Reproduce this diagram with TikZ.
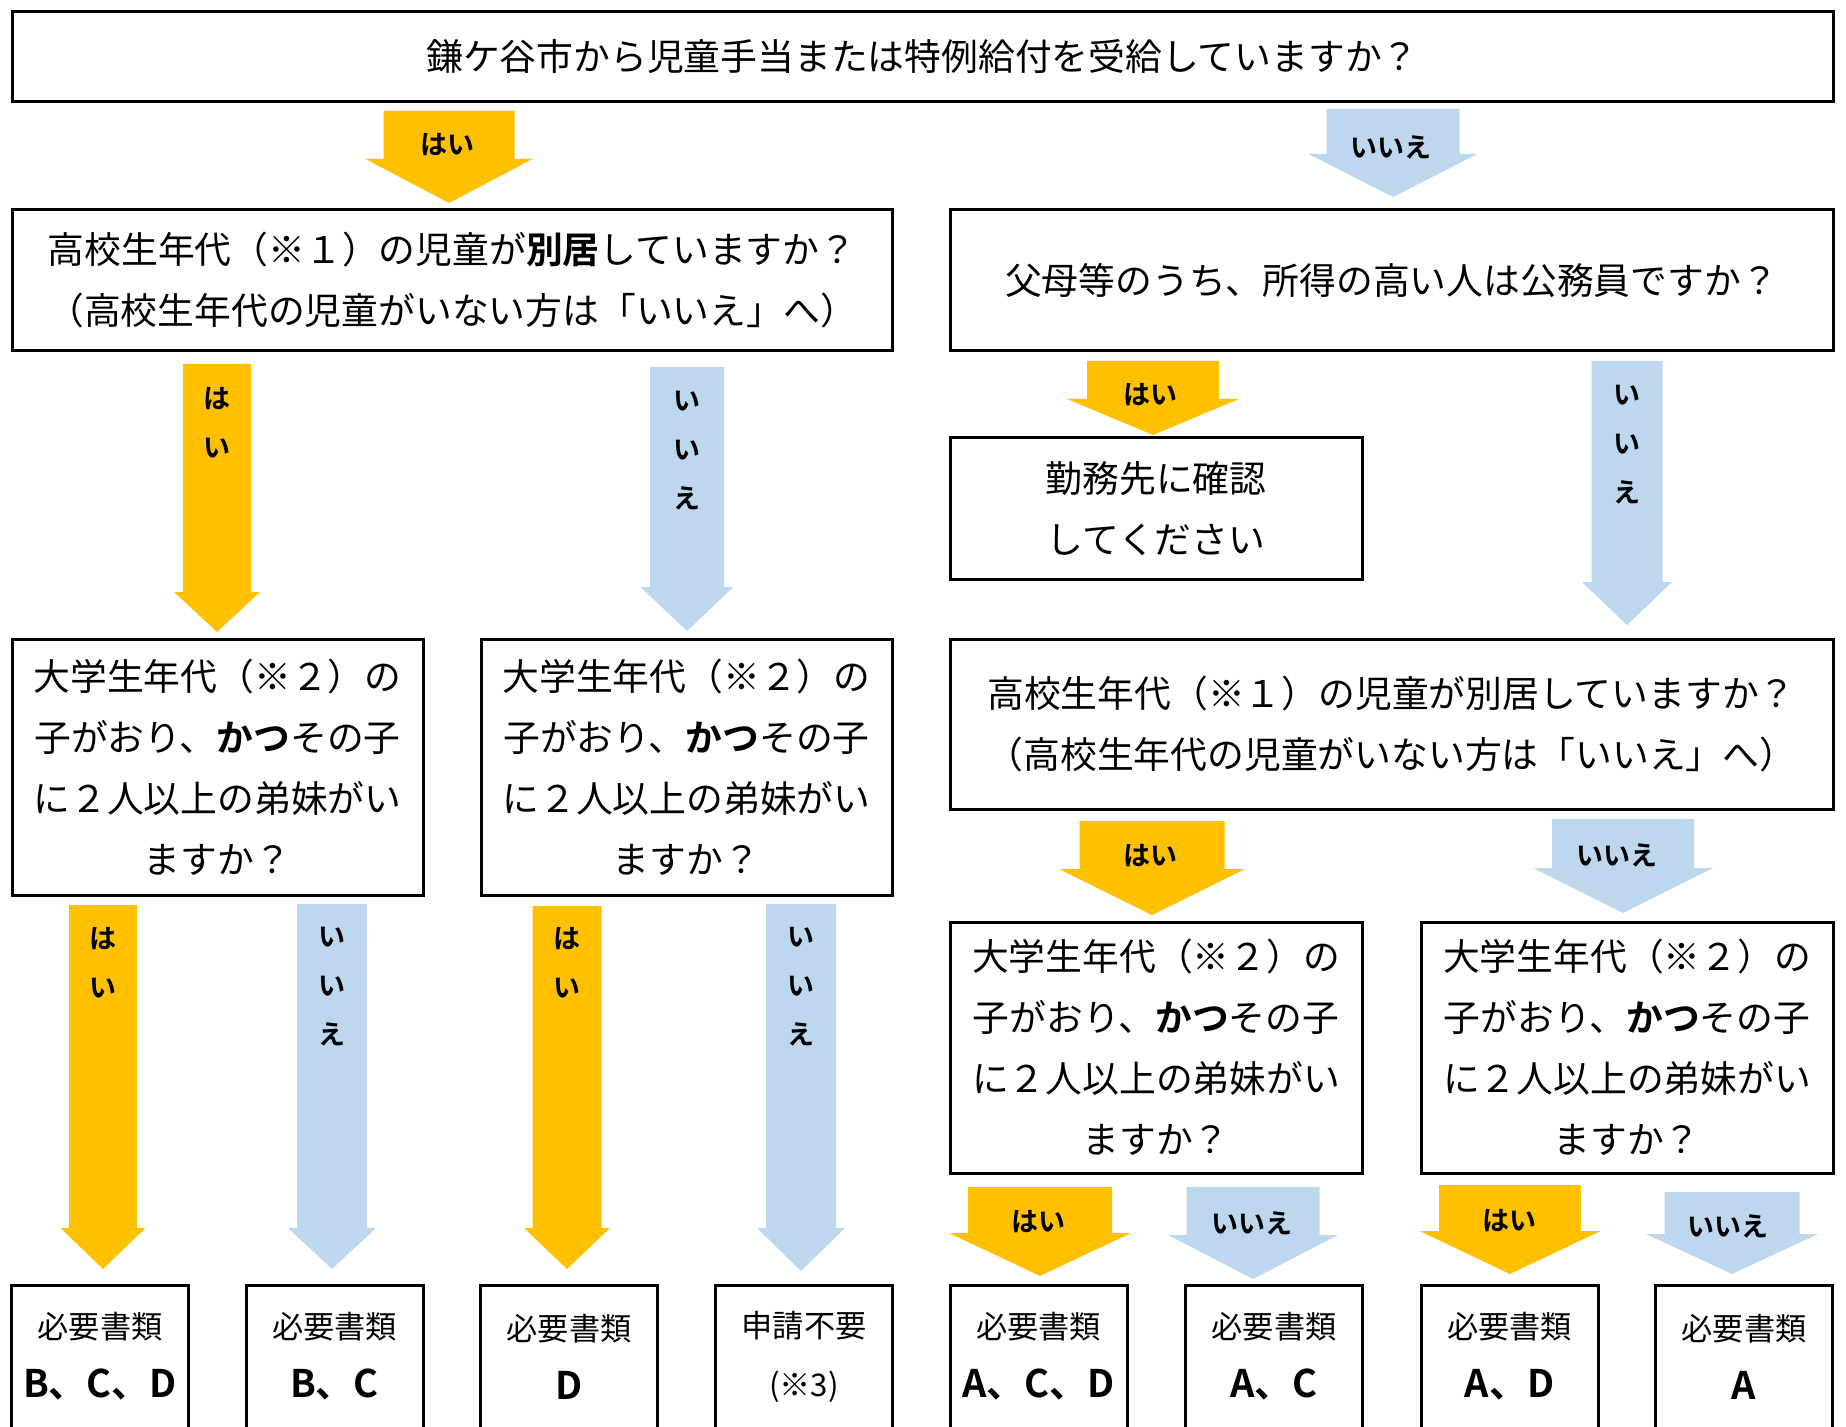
\documentclass[tikz,border=0pt]{standalone}
\usepackage{fontspec}
\setmainfont{Noto Sans CJK JP}[BoldFont={Noto Sans CJK JP Bold}]
\usetikzlibrary{calc}
\definecolor{hai}{HTML}{FFC000}
\definecolor{iie}{HTML}{BDD7EE}
\newdimen\pxu \pxu=0.5pt
\newcommand{\bigarrow}[6]{%
  \fill[#1] ($(#2)+(-#4,0)$) -- ($(#2)+(#4,0)$) -- ($(#3)+(#4,-#6)$) -- ($(#3)+(#5,-#6)$)
    -- (#3) -- ($(#3)+(-#5,-#6)$) -- ($(#3)+(-#4,-#6)$) -- cycle;}
\newcommand{\doclet}[1]{{\fontsize{19pt}{29.5pt}\selectfont\bfseries #1}}

\begin{document}
\begin{tikzpicture}[x=0.5pt, y=-0.5pt,
    box/.style={draw, line width=1.5pt, align=center, inner sep=0pt,
        font=\fontsize{18.4pt}{30.5pt}\selectfont},
    docbox/.style={draw, line width=1.5pt, align=center, inner sep=0pt,
        minimum width=177\pxu, minimum height=143\pxu, font=\fontsize{15.6pt}{29.5pt}\selectfont},
    lab/.style={align=center, inner sep=0pt, font=\fontsize{13.5pt}{24.5pt}\selectfont\bfseries}]
        \useasboundingbox (0,0) rectangle (1846,1427);

        \node[box, minimum width=1821\pxu, minimum height=90\pxu] (q0) at (922.5,57)
            {鎌ケ谷市から児童手当または特例給付を受給していますか？};
        \node[box, minimum width=880\pxu, minimum height=141\pxu] (qL1) at (452,280.5)
            {高校生年代（※１）の児童が\textbf{別居}していますか？\\（高校生年代の児童がいない方は「いいえ」へ）};
        \node[box, minimum width=883\pxu, minimum height=141\pxu] (qR1) at (1391.5,280.5)
            {父母等のうち、所得の高い人は公務員ですか？};
        \node[box, minimum width=412\pxu, minimum height=141\pxu] (qK) at (1156,508.5)
            {勤務先に確認\\してください};
        \node[box, minimum width=411\pxu, minimum height=256\pxu] (qL2a) at (217.5,767)
            {大学生年代（※２）の\\子がおり、\textbf{かつ}その子\\に２人以上の弟妹がい\\ますか？};
        \node[box, minimum width=411\pxu, minimum height=256\pxu] (qL2b) at (686.5,767)
            {大学生年代（※２）の\\子がおり、\textbf{かつ}その子\\に２人以上の弟妹がい\\ますか？};
        \node[box, minimum width=883\pxu, minimum height=170\pxu] (qR2) at (1391.5,724)
            {高校生年代（※１）の児童が別居していますか？\\（高校生年代の児童がいない方は「いいえ」へ）};
        \node[box, minimum width=412\pxu, minimum height=251\pxu] (qR3a) at (1156,1047.5)
            {大学生年代（※２）の\\子がおり、\textbf{かつ}その子\\に２人以上の弟妹がい\\ますか？};
        \node[box, minimum width=412\pxu, minimum height=251\pxu] (qR3b) at (1627,1047.5)
            {大学生年代（※２）の\\子がおり、\textbf{かつ}その子\\に２人以上の弟妹がい\\ますか？};

        \node[docbox] (d1) at (100,1356.5) {必要書類\\\doclet{B、C、D}};
        \node[docbox] (d2) at (334.5,1356.5) {必要書類\\\doclet{B、C}};
        \node[docbox] (d3) at (569,1356.5) {必要書類\\\doclet{D}};
        \node[docbox] (d4) at (804,1356.5) {申請不要\\(※3)};
        \node[docbox] (d5) at (1038.5,1356.5) {必要書類\\\doclet{A、C、D}};
        \node[docbox] (d6) at (1274,1356.5) {必要書類\\\doclet{A、C}};
        \node[docbox] (d7) at (1509.5,1356.5) {必要書類\\\doclet{A、D}};
        \node[docbox] (d8) at (1744,1356.5) {必要書類\\\doclet{A}};

        \coordinate (a0ys) at (449,111);   \coordinate (a0ye) at (449,203);
        \coordinate (a0ns) at (1393,109);  \coordinate (a0ne) at (1393,197);
        \coordinate (a1ys) at (217,364);   \coordinate (a1ye) at (217,632);
        \coordinate (a1ns) at (687,367);   \coordinate (a1ne) at (687,631);
        \coordinate (a2ys) at (1153,361);  \coordinate (a2ye) at (1153,435);
        \coordinate (a2ns) at (1627,361);  \coordinate (a2ne) at (1627,625);
        \coordinate (a3ys) at (103,905);   \coordinate (a3ye) at (103,1269);
        \coordinate (a3ns) at (332,904);   \coordinate (a3ne) at (332,1269);
        \coordinate (a4ys) at (567,906);   \coordinate (a4ye) at (567,1269);
        \coordinate (a4ns) at (801,904);   \coordinate (a4ne) at (801,1271);
        \coordinate (a5ys) at (1152,821);  \coordinate (a5ye) at (1152,915);
        \coordinate (a5ns) at (1623,819);  \coordinate (a5ne) at (1623,913);
        \coordinate (a6ys) at (1040,1187); \coordinate (a6ye) at (1040,1276);
        \coordinate (a6ns) at (1253,1187); \coordinate (a6ne) at (1253,1279);
        \coordinate (a7ys) at (1510,1185); \coordinate (a7ye) at (1510,1274);
        \coordinate (a7ns) at (1732,1192); \coordinate (a7ne) at (1732,1274);

        \bigarrow{hai}{a0ys}{a0ye}{65.5}{83.5}{44}
        \bigarrow{iie}{a0ns}{a0ne}{66.5}{84.5}{43}
        \bigarrow{hai}{a1ys}{a1ye}{34}{43}{40}
        \bigarrow{iie}{a1ns}{a1ne}{37}{46.5}{44}
        \bigarrow{hai}{a2ys}{a2ye}{66}{86}{36}
        \bigarrow{iie}{a2ns}{a2ne}{35.5}{45}{43}
        \bigarrow{hai}{a3ys}{a3ye}{34}{42.5}{41}
        \bigarrow{iie}{a3ns}{a3ne}{35}{44}{41}
        \bigarrow{hai}{a4ys}{a4ye}{34.5}{43}{41}
        \bigarrow{iie}{a4ns}{a4ne}{35}{44}{43}
        \bigarrow{hai}{a5ys}{a5ye}{72.5}{93}{46}
        \bigarrow{iie}{a5ns}{a5ne}{71}{90}{45}
        \bigarrow{hai}{a6ys}{a6ye}{72}{91}{43}
        \bigarrow{iie}{a6ns}{a6ne}{66.5}{85}{44}
        \bigarrow{hai}{a7ys}{a7ye}{71}{90.5}{43}
        \bigarrow{iie}{a7ns}{a7ne}{67.5}{86}{40}

        \node[lab] (t0y) at (447,145) {はい};
        \node[lab] (t0n) at (1391,147) {いいえ};
        \node[lab] (t1y) at (217,422.5) {は\\い};
        \node[lab] (t1n) at (687,450.5) {い\\い\\え};
        \node[lab] (t2y) at (1150,395) {はい};
        \node[lab] (t2n) at (1627,444.5) {い\\い\\え};
        \node[lab] (t3y) at (103,963) {は\\い};
        \node[lab] (t3n) at (332,987) {い\\い\\え};
        \node[lab] (t4y) at (567,963) {は\\い};
        \node[lab] (t4n) at (801,987) {い\\い\\え};
        \node[lab] (t5y) at (1150,856) {はい};
        \node[lab] (t5n) at (1617,855) {いいえ};
        \node[lab] (t6y) at (1038,1222) {はい};
        \node[lab] (t6n) at (1252,1223) {いいえ};
        \node[lab] (t7y) at (1509,1221) {はい};
        \node[lab] (t7n) at (1728,1226) {いいえ};
    \end{tikzpicture}
\end{document}
